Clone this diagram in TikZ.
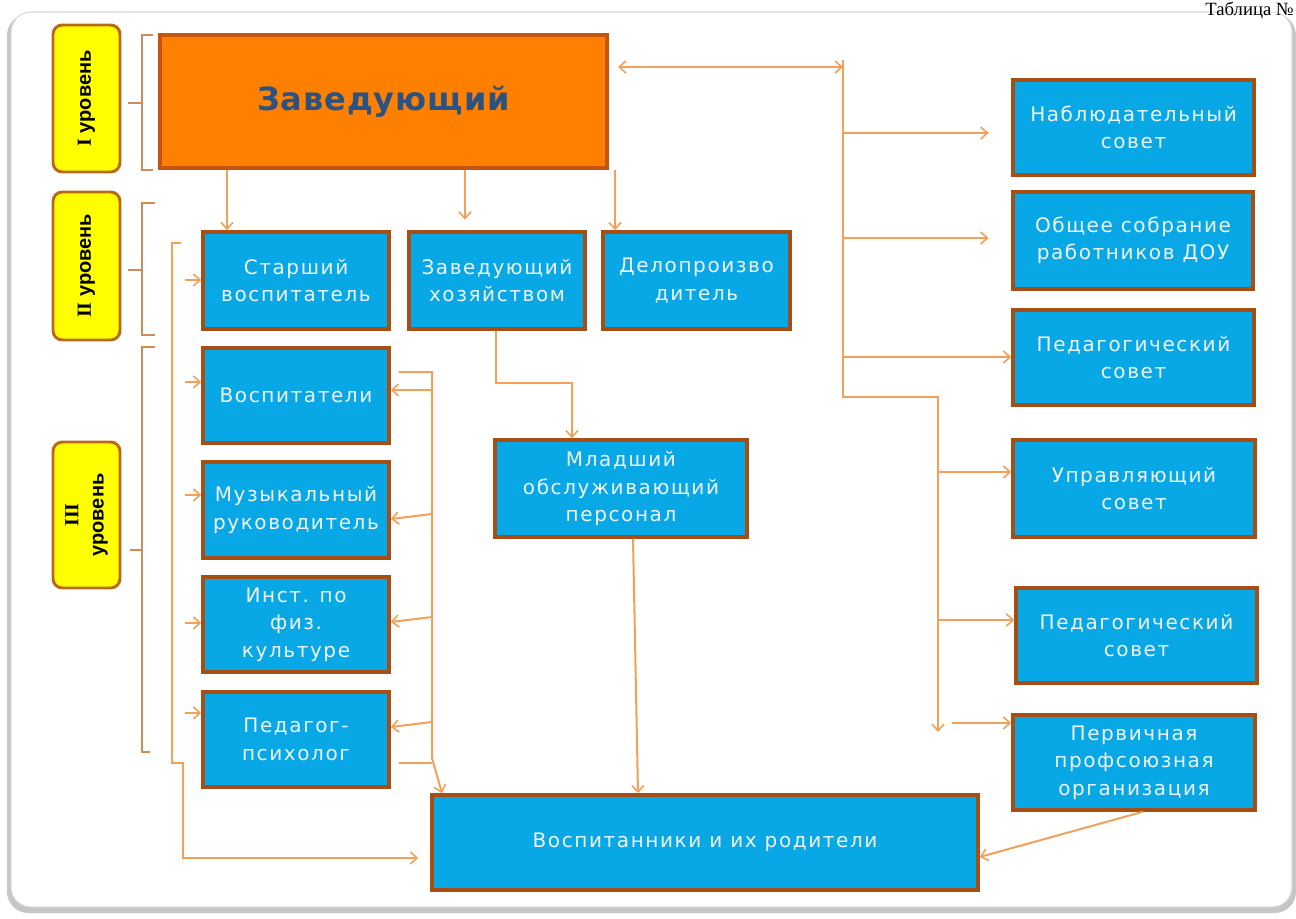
\documentclass[tikz,border=0pt]{standalone}
\usepackage{fontspec}
\setmainfont{DejaVu Sans}
\newfontfamily\bx[LetterSpace=8]{DejaVu Sans}
\newfontfamily\zv[LetterSpace=3]{DejaVu Sans}
\newfontfamily\lvs{Liberation Sans}
\newfontfamily\lvr{Liberation Serif}
\usetikzlibrary{arrows.meta,calc}
\definecolor{bfill}{RGB}{8,168,230}
\definecolor{bdraw}{RGB}{165,78,22}
\definecolor{ofill}{RGB}{255,128,0}
\definecolor{odraw}{RGB}{196,84,16}
\definecolor{conn}{RGB}{242,160,90}
\definecolor{brk}{RGB}{205,140,90}
\definecolor{yfill}{RGB}{255,255,0}
\definecolor{ydraw}{RGB}{185,105,20}
\definecolor{ztext}{RGB}{42,82,130}
\definecolor{btext}{RGB}{238,244,246}
\tikzset{
  box/.style={draw=bdraw, fill=bfill, line width=2.6pt, inner sep=0pt, text=btext,
    font=\bx\fontsize{15}{20.5}\selectfont, align=center},
  headbox/.style={draw=odraw, fill=ofill, line width=2.6pt, inner sep=0pt,
    text=ztext, font=\zv\bfseries\fontsize{24}{24}\selectfont},
  lvl/.style={draw=ydraw, fill=yfill, line width=2.2pt, rounded corners=7pt, inner sep=0pt},
  lvltext/.style={rotate=90, align=center, inner sep=0pt, font=\lvs\bfseries\fontsize{15}{19}\selectfont},
  ln/.style={draw=conn, line width=1.5pt},
  ar/.style={ln, -{Straight Barb[length=5pt,width=9pt,line width=1.2pt]}},
  dar/.style={ln, {Straight Barb[length=5pt,width=9pt,line width=1.2pt]}-{Straight Barb[length=5pt,width=9pt,line width=1.2pt]}},
  br/.style={draw=brk, line width=1pt}
}
% node from pixel corners: [style]{x1}{y1}{x2}{y2}{name}
\newcommand\mkbox[6][box]{\node[#1, minimum width={(#4-#2)*0.75pt}, minimum height={(#5-#3)*0.75pt}] (#6) at ({(#2+#4)/2},{(#3+#5)/2})}
\begin{document}
\begin{tikzpicture}[x=0.75pt,y=-0.75pt]
\useasboundingbox (0,0) rectangle (1296,918);
% slide frame
\fill[gray!45, rounded corners=16pt] (7,14) rectangle (1296,913);
\filldraw[fill=white, draw=gray!30, line width=0.8pt, rounded corners=15pt] (11,12) rectangle (1292,907);
\node[anchor=north east, inner sep=0pt, font=\lvr\fontsize{14}{14}\selectfont] (tab) at (1294,1.5) {Таблица №};

% level labels
\mkbox[lvl]{53}{25}{120}{172}{L1} {};
\node[lvltext] (L1t) at (L1.center) {{\lvr I} уровень};
\mkbox[lvl]{53}{192}{120}{340}{L2} {};
\node[lvltext] (L2t) at (L2.center) {{\lvr II} уровень};
\mkbox[lvl]{53}{442}{120}{588}{L3} {};
\node[lvltext] (L3t) at (L3.center) {{\lvr III}\\уровень};

% brackets
\draw[br] (153,35) -- (142,35) -- (142,170) -- (153,170);
\draw[br] (128,103) -- (142,103);
\draw[br] (155,203) -- (142,203) -- (142,335) -- (155,335);
\draw[br] (128,270) -- (142,270);
\draw[br] (155,347) -- (142,347) -- (142,752) -- (150,752);
\draw[br] (130,550) -- (142,550);

% main box
\mkbox[headbox]{160}{35}{607}{168}{zav} {Заведующий};

% level II
\mkbox{203}{232}{389}{329}{st} {Старший\\воспитатель};
\mkbox{409}{232}{585}{329}{zx} {Заведующий\\хозяйством};
\mkbox{603}{232}{790}{329}{del} {Делопроизво\\дитель};

% level III
\mkbox{203}{348}{389}{443}{vos} {Воспитатели};
\mkbox{203}{462}{389}{558}{muz} {Музыкальный\\руководитель};
\mkbox{203}{577}{389}{672}{fiz} {Инст. по\\физ.\\культуре};
\mkbox{203}{692}{389}{787}{psy} {Педагог-\\психолог};
\mkbox{495}{440}{747}{537}{ml} {Младший\\обслуживающий\\персонал};
\mkbox{432}{795}{978}{890}{kids} {Воспитанники и их родители};

% right column
\mkbox{1013}{80}{1254}{175}{nab} {Наблюдательный\\совет};
\mkbox{1013}{192}{1253}{289}{obs} {Общее собрание\\работников ДОУ};
\mkbox{1013}{310}{1254}{405}{ped1} {Педагогический\\совет};
\mkbox{1013}{440}{1255}{537}{upr} {Управляющий\\совет};
\mkbox{1016}{588}{1257}{683}{ped2} {Педагогический\\совет};
\mkbox{1013}{715}{1255}{810}{prof} {Первичная\\профсоюзная\\организация};

% helper coordinates
\coordinate (c227) at (227,0);
\coordinate (c465) at (465,0);
\coordinate (c615) at (615,0);
\coordinate (y67) at (0,67);
\coordinate (tt) at (843,60);
\coordinate (tb) at (843,397);
\coordinate (tc) at (938,397);
\coordinate (td) at (938,732);

% from head
\draw[ar] (zav.south -| c227) -- (st.north -| c227);
\draw[ar, shorten >=8pt] (zav.south -| c465) -- (zx.north -| c465);
\draw[ar] (zav.south -| c615) -- (del.north -| c615);
\draw[dar, shorten <=7pt] (zav.east |- y67) -- (y67 -| tt);
\draw[ar] (tt) -- (tb) -- (tc) -- (td);

% right branches
\coordinate (b1) at (843,133);
\coordinate (b2) at (843,238);
\coordinate (b3) at (843,357);
\coordinate (b4) at (938,472);
\coordinate (b5) at (938,620);
\coordinate (b6) at (952,723);
\draw[ar, shorten >=17pt] (b1) -- (nab.west |- b1);
\draw[ar, shorten >=17pt] (b2) -- (obs.west |- b2);
\draw[ar] (b3) -- (ped1.west |- b3);
\draw[ar] (b4) -- (upr.west |- b4);
\draw[ar] (b5) -- (ped2.west |- b5);
\draw[ar] (b6) -- (prof.west |- b6);

% left small arrows
\coordinate (l1) at (185,280);
\coordinate (l2) at (185,382);
\coordinate (l3) at (185,495);
\coordinate (l4) at (185,623);
\coordinate (l5) at (185,713);
\draw[ar] (l1) -- (st.west |- l1);
\draw[ar] (l2) -- (vos.west |- l2);
\draw[ar] (l3) -- (muz.west |- l3);
\draw[ar] (l4) -- (fiz.west |- l4);
\draw[ar] (l5) -- (psy.west |- l5);

% left long line to pupils
\coordinate (lp0) at (181,243);
\coordinate (lp1) at (0,858);
\draw[ar, shorten >=9pt] (lp0) -- (172,243) -- (172,763) -- (183,763) -- (183,858) -- (kids.west |- lp1);

% right bus of III level
\coordinate (rb0) at (432,372);
\coordinate (rb1) at (432,758);
\coordinate (rb2) at (442,0);
\draw[ar, shorten <=6pt] (vos.east |- rb0) -- (rb0) -- (rb1) -- (kids.north -| rb2);
\coordinate (r1) at (432,390);
\coordinate (r2) at (432,514);
\coordinate (r3) at (432,617);
\coordinate (r4) at (432,722);
\coordinate (r5) at (432,763);
\draw[ar] (r1) -- (vos.east |- r1);
\draw[ar] (r2) -- ($(muz.east |- r2)+(0,5)$);
\draw[ar] (r3) -- ($(fiz.east |- r3)+(0,5)$);
\draw[ar] (r4) -- ($(psy.east |- r4)+(0,5)$);
\draw[ln, shorten <=6pt] (psy.east |- r5) -- (r5);

% middle
\coordinate (m0) at (496,0);
\coordinate (m1) at (572,383);
\draw[ar] (zx.south -| m0) |- (m1) -- (ml.north -| m1);
\coordinate (k1) at (633,0);
\coordinate (k2) at (638,0);
\draw[ar] (ml.south -| k1) -- (kids.north -| k2);
\coordinate (p1) at (1143,0);
\coordinate (p2) at (0,857);
\draw[ar] (prof.south -| p1) -- (kids.east |- p2);
\end{tikzpicture}
\end{document}
